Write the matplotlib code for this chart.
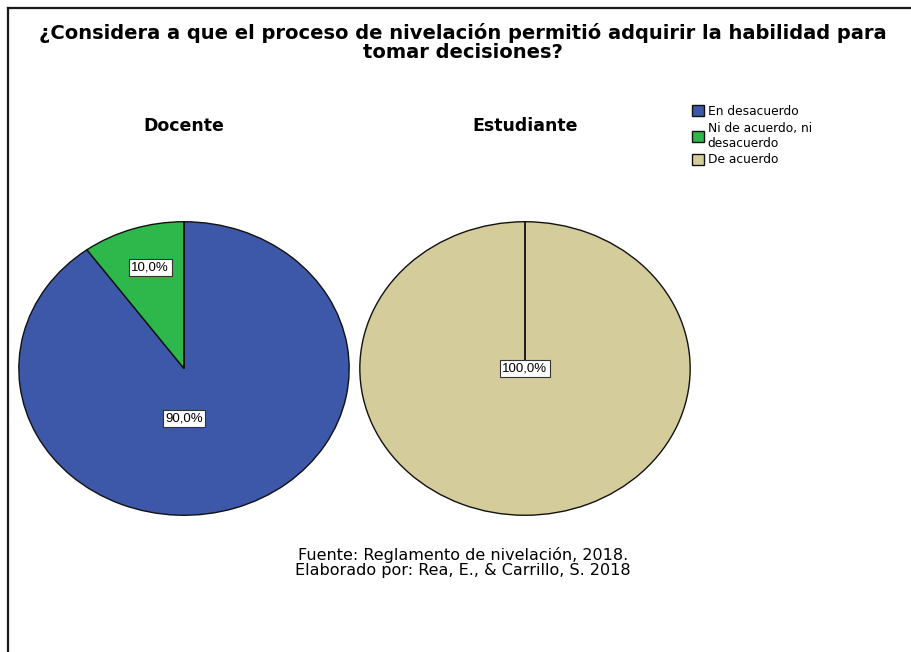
import matplotlib.pyplot as plt
from matplotlib.lines import Line2D

plt.rcParams['font.family'] = ['DejaVu Sans']

categorias = ['En desacuerdo', 'Ni de acuerdo, ni\ndesacuerdo', 'De acuerdo']
colores = ['#3d57a9', '#2eb84b', '#d4cd9b']
grupos = ['Docente', 'Estudiante']
docente = [90, 10, 0]
estudiante = [0, 0, 100]
etiquetas = [['90,0%', '10,0%'], ['100,0%']]

fig = plt.figure(figsize=(9.11, 6.52), dpi=100)

# marco (solo izquierda y arriba, como en la captura)
fig.add_artist(Line2D([8/911, 8/911], [0, 1-8/652], color='#1a1a1a', lw=1.6, transform=fig.transFigure))
fig.add_artist(Line2D([8/911, 1], [1-8/652, 1-8/652], color='#1a1a1a', lw=1.6, transform=fig.transFigure))

fig.text(463/911, 1-33/652, u'¿Considera a que el proceso de nivelación permitió adquirir la habilidad para',
         ha='center', va='center', fontsize=14, fontweight='bold')
fig.text(463/911, 1-52/652, 'tomar decisiones?', ha='center', va='center', fontsize=14, fontweight='bold')

pos_ejes = [[18/911, 1-516/652, 332/911, 295/652], [359/911, 1-516/652, 332/911, 295/652]]
pos_etq = [[(0.0, -0.34), (-0.205, 0.69)], [(0.0, 0.0)]]

wedges_leg = None
for i, datos in enumerate([docente, estudiante]):
    ax = fig.add_axes(pos_ejes[i])
    w, _ = ax.pie(datos, colors=colores, startangle=90, counterclock=False, radius=1,
                  wedgeprops=dict(edgecolor='#111111', linewidth=1))
    for wd, v in zip(w, datos):
        if v == 0:
            wd.set_zorder(5)
    ax.set_aspect('auto')
    ax.set_xlim(-1.005, 1.005)
    ax.set_ylim(-1.005, 1.005)
    ax.text(0, 1.65, grupos[i], ha='center', va='center', fontsize=12.5, fontweight='bold')
    for txt, (x, y) in zip(etiquetas[i], pos_etq[i]):
        ax.text(x, y, txt, ha='center', va='center', fontsize=9.5, zorder=10, family='Liberation Sans',
                bbox=dict(boxstyle='square,pad=0.2', fc='white', ec='#333333', lw=0.8))
    if i == 0:
        wedges_leg = w

fig.legend(wedges_leg, categorias, loc='upper left', bbox_to_anchor=(687/911, 1-100/652),
           frameon=False, fontsize=8.8, handlelength=1.0, handleheight=1.0, handletextpad=0.3,
           labelspacing=0.3, borderaxespad=0)

fig.text(463/911, 1-555/652, u'Fuente: Reglamento de nivelación, 2018.', ha='center', va='center', fontsize=11.5)
fig.text(463/911, 1-571/652, u'Elaborado por: Rea, E., & Carrillo, S. 2018', ha='center', va='center', fontsize=11.5)

fig.savefig('out.png', dpi=100)
